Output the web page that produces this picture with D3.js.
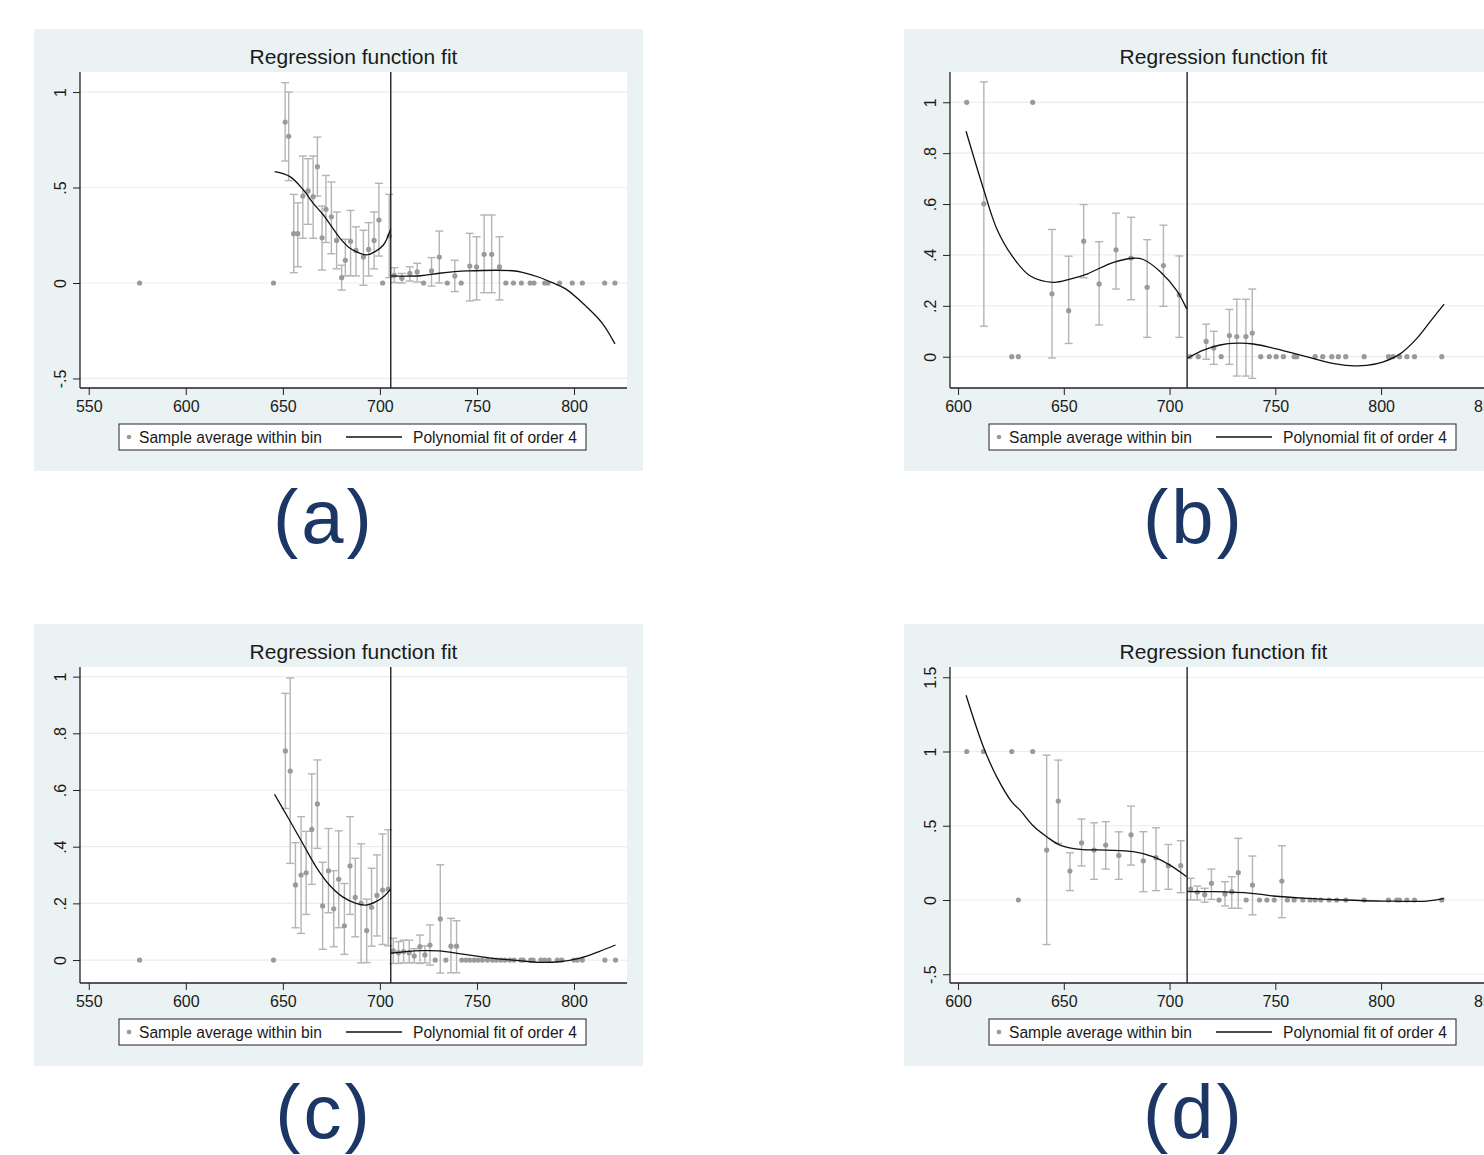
<!DOCTYPE html>
<html>
<head>
<meta charset="utf-8">
<script src="https://cdn.jsdelivr.net/npm/d3@7"></script>
<style>
  html, body { margin: 0; padding: 0; background: #ffffff; }
  svg { display: block; }
  text { font-family: "Liberation Sans", Arial, sans-serif; }
</style>
</head>
<body>
<svg id="chart" width="1484" height="1155"></svg>
<script>
// ---------------- DATA ----------------
const chartTitle = "Regression function fit";
const legendLabels = ["Sample average within bin", "Polynomial fit of order 4"];
const panelLabels = ["(a)", "(b)", "(c)", "(d)"];

const xTicksAC = [550, 600, 650, 700, 750, 800];
const xTicksBD = [600, 650, 700, 750, 800, 850];
const yTicksA = [-0.5, 0, 0.5, 1];
const yTickLabelsA = ["-.5", "0", ".5", "1"];
const yTicksBC = [0, 0.2, 0.4, 0.6, 0.8, 1];
const yTickLabelsBC = ["0", ".2", ".4", ".6", ".8", "1"];
const yTicksD = [-0.5, 0, 0.5, 1, 1.5];
const yTickLabelsD = ["-.5", "0", ".5", "1", "1.5"];

const cutoffAC = 705.6;
const cutoffBD = 708.3;

// bins: [x, mean, ciLow, ciHigh]  (null = no interval)
const binsA = [
  [576.2, 0, null, null], [645.2, 0, null, null],
  [651.2, 0.843, 0.639, 1.049], [653.0, 0.768, 0.536, 1.0],
  [655.6, 0.258, 0.054, 0.464], [657.7, 0.258, 0.085, 0.42],
  [660.3, 0.455, 0.234, 0.665], [663.0, 0.482, 0.307, 0.651],
  [665.6, 0.452, 0.234, 0.665], [667.8, 0.609, 0.455, 0.764],
  [670.2, 0.237, 0.068, 0.403], [672.2, 0.386, 0.212, 0.563],
  [675.0, 0.347, 0.153, 0.529], [677.7, 0.223, 0.074, 0.372],
  [680.3, 0.028, -0.037, 0.093], [682.2, 0.119, 0.037, 0.229],
  [684.9, 0.218, 0.037, 0.38], [687.7, 0.171, 0.037, 0.294],
  [691.5, 0.136, -0.012, 0.276], [694.2, 0.176, 0.037, 0.316],
  [697.0, 0.223, 0.074, 0.372], [699.5, 0.33, 0.141, 0.522],
  [701.4, 0, null, null], [704.8, 0.246, 0.028, 0.464],
  [707.4, 0.04, 0.002, 0.08], [711.3, 0.025, 0.0, 0.05],
  [715.4, 0.051, 0.01, 0.085], [719.2, 0.058, 0.005, 0.103],
  [722.5, 0, null, null], [726.6, 0.063, -0.016, 0.133],
  [730.6, 0.136, 0.0, 0.272], [734.7, 0, null, null],
  [738.6, 0.037, -0.045, 0.119], [741.9, 0, null, null],
  [746.3, 0.089, -0.094, 0.26], [749.8, 0.084, -0.089, 0.242],
  [753.7, 0.15, -0.051, 0.356], [757.6, 0.15, -0.051, 0.356],
  [761.6, 0.084, -0.089, 0.242],
  [764.9, 0, null, null], [768.8, 0, null, null], [772.9, 0, null, null],
  [777.4, 0, null, null], [779.4, 0, null, null], [784.9, 0, null, null],
  [786.6, 0, null, null], [792.6, 0, null, null], [799.1, 0, null, null],
  [804.3, 0, null, null], [815.8, 0, null, null], [821.1, 0, null, null]
];
const fitLeftA = [
  [645.8, 0.583], [653.7, 0.557], [660.6, 0.487], [665.7, 0.417], [670.9, 0.356],
  [675.2, 0.295], [679.5, 0.234], [684.6, 0.182], [689.8, 0.155], [693.2, 0.147],
  [697.5, 0.164], [701.8, 0.199], [705.6, 0.283]
];
const fitRightA = [
  [705.7, 0.037], [721.1, 0.038], [730.6, 0.051], [745.1, 0.063], [768.3, 0.064],
  [773.4, 0.056], [782.0, 0.03], [788.8, 0.002], [795.7, -0.031], [806.0, -0.12],
  [814.6, -0.211], [821.1, -0.319]
];

const binsB = [
  [604.1, 1, null, null], [612.2, 0.601, 0.12, 1.08],
  [625.4, 0, null, null], [628.5, 0, null, null], [635.3, 1, null, null],
  [644.4, 0.247, -0.005, 0.5], [652.3, 0.181, 0.052, 0.395],
  [659.4, 0.454, 0.31, 0.598], [666.7, 0.286, 0.125, 0.452],
  [674.7, 0.42, 0.266, 0.564], [681.8, 0.388, 0.224, 0.548],
  [689.4, 0.273, 0.076, 0.46], [697.1, 0.358, 0.198, 0.517],
  [704.6, 0.243, 0.076, 0.396],
  [709.7, 0, null, null], [713.6, 0, null, null],
  [717.3, 0.06, -0.01, 0.128], [720.9, 0.034, -0.03, 0.1],
  [724.4, 0, null, null], [728.3, 0.083, -0.03, 0.186],
  [731.8, 0.079, -0.076, 0.226], [736.1, 0.079, -0.076, 0.226],
  [739.1, 0.093, -0.085, 0.266],
  [743.1, 0, null, null], [747.2, 0, null, null], [750.4, 0, null, null],
  [753.8, 0, null, null], [758.9, 0, null, null], [760.1, 0, null, null],
  [768.8, 0, null, null], [772.4, 0, null, null], [776.7, 0, null, null],
  [779.8, 0, null, null], [783.3, 0, null, null], [792.0, 0, null, null],
  [803.5, 0, null, null], [805.6, 0, null, null], [808.7, 0, null, null],
  [812.2, 0, null, null], [815.8, 0, null, null], [828.7, 0, null, null]
];
const fitLeftB = [
  [603.8, 0.886], [612.0, 0.66], [618.3, 0.503], [625.4, 0.398], [634.0, 0.318],
  [645.1, 0.292], [653.0, 0.305], [660.9, 0.325], [673.5, 0.371], [682.9, 0.387],
  [687.6, 0.382], [695.5, 0.335], [703.4, 0.26], [708.1, 0.188]
];
const fitRightB = [
  [708.4, -0.006], [716.0, 0.026], [723.9, 0.046], [731.8, 0.053], [739.6, 0.05],
  [747.5, 0.037], [763.3, 0.003], [775.9, -0.024], [785.3, -0.035], [793.2, -0.034],
  [801.1, -0.02], [809.0, 0.011], [816.9, 0.072], [823.2, 0.138], [829.8, 0.207]
];

const binsC = [
  [576.2, 0, null, null], [645.2, 0, null, null],
  [651.3, 0.738, 0.535, 0.941], [653.8, 0.667, 0.341, 0.995],
  [656.5, 0.265, 0.114, 0.414], [659.4, 0.3, 0.094, 0.506],
  [662.0, 0.308, 0.161, 0.454], [664.9, 0.461, 0.267, 0.657],
  [667.8, 0.551, 0.394, 0.706], [670.5, 0.191, 0.038, 0.345],
  [673.5, 0.315, 0.167, 0.464], [676.2, 0.181, 0.047, 0.315],
  [678.8, 0.285, 0.114, 0.456], [681.7, 0.121, 0.02, 0.27],
  [684.6, 0.332, 0.161, 0.506], [687.3, 0.221, 0.082, 0.359],
  [690.3, 0.2, -0.01, 0.41], [693.2, 0.104, -0.009, 0.215],
  [695.7, 0.186, 0.049, 0.324], [698.5, 0.228, 0.085, 0.371],
  [701.4, 0.247, 0.055, 0.445], [704.3, 0.25, 0.05, 0.46],
  [706.9, 0.032, -0.012, 0.077], [709.6, 0.026, -0.012, 0.065],
  [712.2, 0.03, -0.01, 0.07], [715.1, 0.026, -0.01, 0.07],
  [717.7, 0.014, -0.01, 0.04], [720.6, 0.047, -0.012, 0.088],
  [723.2, 0.018, -0.01, 0.05], [725.8, 0.053, -0.018, 0.124],
  [728.5, 0, null, null], [731.1, 0.145, -0.046, 0.336],
  [734.0, 0, null, null], [736.6, 0.049, -0.045, 0.147],
  [739.5, 0.049, -0.045, 0.139],
  [742.2, 0, null, null], [744.3, 0, null, null], [746.3, 0, null, null],
  [748.6, 0, null, null], [750.6, 0, null, null], [752.8, 0, null, null],
  [755.4, 0, null, null], [758.0, 0, null, null], [760.0, 0, null, null],
  [762.3, 0, null, null], [764.5, 0, null, null], [766.9, 0, null, null],
  [769.1, 0, null, null], [772.6, 0, null, null], [773.8, 0, null, null],
  [777.7, 0, null, null], [778.9, 0, null, null], [782.9, 0, null, null],
  [784.9, 0, null, null], [787.1, 0, null, null], [791.4, 0, null, null],
  [793.7, 0, null, null], [800.0, 0, null, null], [801.7, 0, null, null],
  [804.3, 0, null, null], [815.9, 0, null, null], [821.4, 0, null, null]
];
const fitLeftC = [
  [645.7, 0.585], [653.4, 0.494], [660.2, 0.412], [667.1, 0.329], [674.0, 0.265],
  [680.8, 0.223], [687.7, 0.2], [692.8, 0.194], [698.0, 0.206], [702.3, 0.226],
  [705.5, 0.25]
];
const fitRightC = [
  [705.7, 0.024], [713.4, 0.03], [722.0, 0.033], [730.6, 0.032], [742.5, 0.021],
  [756.3, 0.008], [771.7, -0.002], [782.0, -0.008], [792.3, -0.006], [802.6, 0.006],
  [812.9, 0.03], [821.4, 0.053]
];

const binsD = [
  [604.1, 1, null, null], [612.0, 1, null, null], [625.4, 1, null, null],
  [628.5, 0, null, null], [635.3, 1, null, null],
  [641.9, 0.336, -0.30, 0.975], [647.4, 0.666, 0.381, 0.942],
  [652.9, 0.195, 0.063, 0.318], [658.4, 0.385, 0.229, 0.545],
  [664.3, 0.336, 0.139, 0.52], [669.8, 0.37, 0.208, 0.527],
  [676.0, 0.3, 0.139, 0.459], [681.8, 0.439, 0.235, 0.632],
  [687.6, 0.264, 0.056, 0.46], [693.6, 0.285, 0.063, 0.486],
  [699.4, 0.231, 0.072, 0.374], [705.3, 0.231, 0.049, 0.399],
  [710.0, 0.074, 0.0, 0.146], [713.1, 0.052, 0.0, 0.094],
  [716.6, 0.036, -0.015, 0.079], [719.8, 0.112, 0.004, 0.208],
  [723.4, 0, null, null], [726.2, 0.04, -0.04, 0.123],
  [729.4, 0.056, -0.056, 0.157], [732.5, 0.184, -0.056, 0.415],
  [736.2, 0, null, null], [739.2, 0.101, -0.1, 0.296],
  [742.5, 0, null, null], [746.0, 0, null, null], [749.5, 0, null, null],
  [753.1, 0.128, -0.119, 0.365],
  [755.7, 0, null, null], [758.9, 0, null, null], [763.0, 0, null, null],
  [766.4, 0, null, null], [768.8, 0, null, null], [771.5, 0, null, null],
  [775.4, 0, null, null], [779.0, 0, null, null], [783.3, 0, null, null],
  [792.0, 0, null, null], [803.5, 0, null, null], [807.4, 0, null, null],
  [808.7, 0, null, null], [812.2, 0, null, null], [815.8, 0, null, null],
  [828.7, 0, null, null]
];
const fitLeftD = [
  [603.8, 1.379], [612.0, 1.031], [618.3, 0.829], [625.4, 0.661], [629.3, 0.605],
  [635.6, 0.498], [641.9, 0.426], [648.2, 0.37], [657.7, 0.341], [670.3, 0.336],
  [682.9, 0.325], [692.4, 0.291], [700.2, 0.235], [708.1, 0.157]
];
const fitRightD = [
  [708.4, 0.056], [720.7, 0.056], [738.8, 0.045], [749.1, 0.027], [765.6, 0.011],
  [782.2, 0.0], [801.1, -0.007], [821.6, -0.007], [829.8, 0.011]
];

// ---------------- DRAWING ----------------
const svg = d3.select("#chart");
const BG = "#eaf2f3";
const PW = 609, PH = 442;
const plot = { left: 46, right: 593, top: 43, bottom: 359 };
const FONT = '"Liberation Sans", Arial, sans-serif';

const panels = [
  { ox: 34,  oy: 29,  bins: binsA, fitL: fitLeftA, fitR: fitRightA, cut: cutoffAC,
    xd: [545.5, 827.3], yd: [-0.55, 1.105], xt: xTicksAC, yt: yTicksA, ytl: yTickLabelsA, label: panelLabels[0] },
  { ox: 904, oy: 29,  bins: binsB, fitL: fitLeftB, fitR: fitRightB, cut: cutoffBD,
    xd: [596.2, 854.8], yd: [-0.123, 1.119], xt: xTicksBD, yt: yTicksBC, ytl: yTickLabelsBC, label: panelLabels[1] },
  { ox: 34,  oy: 624, bins: binsC, fitL: fitLeftC, fitR: fitRightC, cut: cutoffAC,
    xd: [545.5, 827.3], yd: [-0.081, 1.034], xt: xTicksAC, yt: yTicksBC, ytl: yTickLabelsBC, label: panelLabels[2] },
  { ox: 904, oy: 624, bins: binsD, fitL: fitLeftD, fitR: fitRightD, cut: cutoffBD,
    xd: [596.2, 854.8], yd: [-0.559, 1.569], xt: xTicksBD, yt: yTicksD, ytl: yTickLabelsD, label: panelLabels[3] }
];

panels.forEach((p, i) => {
  const g = svg.append("g").attr("transform", `translate(${p.ox},${p.oy})`);
  g.append("rect").attr("width", PW).attr("height", PH).attr("fill", BG);
  g.append("rect").attr("x", plot.left).attr("y", plot.top)
    .attr("width", plot.right - plot.left).attr("height", plot.bottom - plot.top)
    .attr("fill", "#ffffff");

  const x = d3.scaleLinear().domain(p.xd).range([plot.left, plot.right]);
  const y = d3.scaleLinear().domain(p.yd).range([plot.bottom, plot.top]);

  const clipId = "clip" + i;
  g.append("clipPath").attr("id", clipId).append("rect")
    .attr("x", plot.left).attr("y", plot.top)
    .attr("width", plot.right - plot.left).attr("height", plot.bottom - plot.top);

  // gridlines
  g.append("g").selectAll("line").data(p.yt).join("line")
    .attr("x1", plot.left).attr("x2", plot.right)
    .attr("y1", d => y(d)).attr("y2", d => y(d))
    .attr("stroke", "#e6eff0").attr("stroke-width", 1.2);

  // title
  g.append("text").attr("x", (plot.left + plot.right) / 2).attr("y", 35)
    .attr("text-anchor", "middle").attr("font-size", 21).attr("fill", "#1a1a1a")
    .text(chartTitle);

  const inner = g.append("g").attr("clip-path", `url(#${clipId})`);

  // error bars
  const eb = p.bins.filter(d => d[2] !== null);
  const ebg = inner.append("g").attr("stroke", "#b4b4b4").attr("stroke-width", 1.4).attr("fill", "none");
  ebg.selectAll("line.v").data(eb).join("line").attr("class", "v")
    .attr("x1", d => x(d[0])).attr("x2", d => x(d[0]))
    .attr("y1", d => y(d[2])).attr("y2", d => y(d[3]));
  ebg.selectAll("line.t").data(eb).join("line").attr("class", "t")
    .attr("x1", d => x(d[0]) - 4).attr("x2", d => x(d[0]) + 4)
    .attr("y1", d => y(d[3])).attr("y2", d => y(d[3]));
  ebg.selectAll("line.b").data(eb).join("line").attr("class", "b")
    .attr("x1", d => x(d[0]) - 4).attr("x2", d => x(d[0]) + 4)
    .attr("y1", d => y(d[2])).attr("y2", d => y(d[2]));

  // points
  inner.append("g").selectAll("circle").data(p.bins).join("circle")
    .attr("cx", d => x(d[0])).attr("cy", d => y(d[1])).attr("r", 2.6)
    .attr("fill", "#9a9a9a");

  // fits
  const line = d3.line().x(d => x(d[0])).y(d => y(d[1])).curve(d3.curveCatmullRom.alpha(0.5));
  [p.fitL, p.fitR].forEach(f => {
    inner.append("path").datum(f).attr("d", line)
      .attr("fill", "none").attr("stroke", "#111").attr("stroke-width", 1.3);
  });

  // cutoff line
  g.append("line").attr("x1", x(p.cut)).attr("x2", x(p.cut))
    .attr("y1", plot.top).attr("y2", plot.bottom)
    .attr("stroke", "#111").attr("stroke-width", 1.3);

  // axes
  const xAxis = d3.axisBottom(x).tickValues(p.xt).tickSize(7).tickPadding(6).tickFormat(d3.format("d"));
  const xg = g.append("g").attr("transform", `translate(0,${plot.bottom})`).call(xAxis);
  xg.select(".domain").attr("d", `M${plot.left},0H${plot.right}`).attr("stroke", "#222").attr("stroke-width", 1.3);
  xg.selectAll(".tick line").attr("stroke", "#222");
  xg.selectAll(".tick text").attr("font-size", 16).attr("fill", "#1a1a1a")
    .attr("font-family", FONT).attr("dy", "0.71em");

  const yAxis = d3.axisLeft(y).tickValues(p.yt).tickSize(7).tickFormat((d, k) => p.ytl[k]);
  const yg = g.append("g").attr("transform", `translate(${plot.left},0)`).call(yAxis);
  yg.select(".domain").attr("d", `M0,${plot.top}V${plot.bottom}`).attr("stroke", "#222").attr("stroke-width", 1.3);
  yg.selectAll(".tick line").attr("stroke", "#222");
  yg.selectAll(".tick text").attr("font-size", 16).attr("fill", "#1a1a1a")
    .attr("font-family", FONT)
    .attr("x", null).attr("dy", null)
    .attr("text-anchor", "middle")
    .attr("transform", "translate(-14,0) rotate(-90)");

  // legend
  const lg = g.append("g").attr("transform", "translate(85,395)");
  lg.append("rect").attr("width", 467).attr("height", 26)
    .attr("fill", "#fff").attr("stroke", "#222").attr("stroke-width", 1);
  lg.append("circle").attr("cx", 10).attr("cy", 13).attr("r", 2.3).attr("fill", "#9a9a9a");
  lg.append("text").attr("x", 20).attr("y", 19).attr("font-size", 15.6).attr("fill", "#1a1a1a").text(legendLabels[0]);
  lg.append("line").attr("x1", 227).attr("x2", 283).attr("y1", 13).attr("y2", 13)
    .attr("stroke", "#111").attr("stroke-width", 1.3);
  lg.append("text").attr("x", 294).attr("y", 19).attr("font-size", 15.6).attr("fill", "#1a1a1a").text(legendLabels[1]);

  // panel label
  svg.append("text").attr("x", p.ox + 290).attr("y", p.oy + PH + 72)
    .attr("text-anchor", "middle").attr("font-size", 76)
    .attr("font-family", '"Open Sans", "Noto Sans", sans-serif')
    .attr("letter-spacing", 3)
    .attr("fill", "#1c3766").text(p.label);
});
</script>
</body>
</html>
